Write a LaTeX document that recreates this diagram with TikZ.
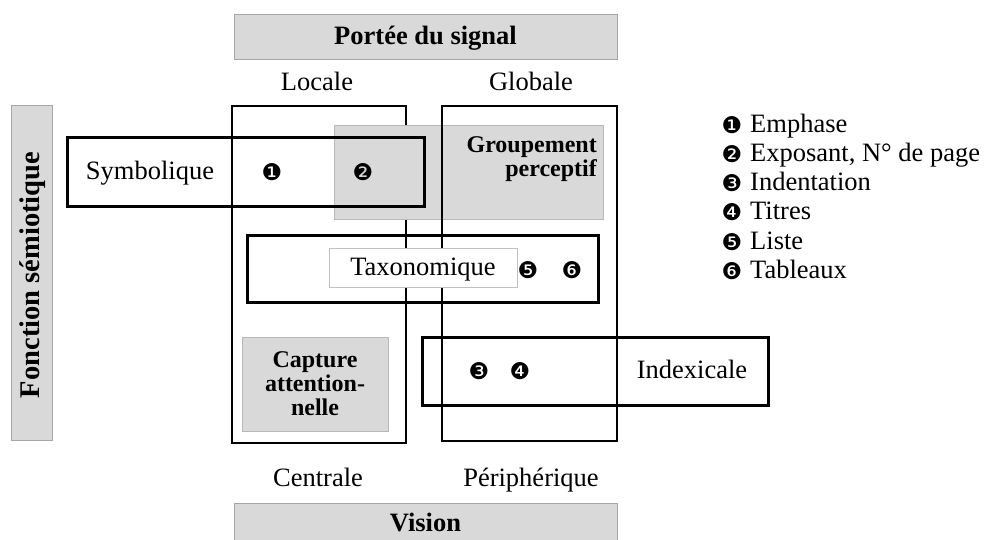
\documentclass[tikz,border=0pt]{standalone}
\usepackage{fontspec}
\setmainfont{Liberation Serif}
\newfontfamily\dingfont{DejaVu Sans}
\definecolor{barfill}{HTML}{D9D9D9}
\definecolor{baredge}{HTML}{A6A6A6}
\tikzset{
  headbar/.style={fill=barfill, draw=baredge, line width=1pt},
  colbox/.style={draw=black, line width=2pt},
  catbox/.style={draw=black, line width=3pt},
  graybox/.style={fill=barfill, draw=barfill!85!black, line width=0.8pt},
  headtxt/.style={inner sep=0pt, text height=20pt, text depth=5pt, font=\fontsize{26.5}{30}\bfseries\selectfont},
  lbl/.style={inner sep=0pt, text height=20pt, text depth=5pt, font=\fontsize{26.5}{30}\selectfont},
  boldlbl/.style={inner sep=0pt, font=\fontsize{24}{24}\bfseries\selectfont},
  num/.style={inner sep=0pt, font=\fontsize{23}{24}\dingfont\selectfont},
  legtxt/.style={inner sep=0pt, text height=20pt, text depth=5pt, anchor=west, font=\fontsize{26.5}{30}\selectfont}
}
\begin{document}
\begin{tikzpicture}[x=1pt,y=-1pt]
\useasboundingbox (0,0) rectangle (986,539);
% header bars
\draw[headbar] (234,14) rectangle (617,59);
\node[headtxt] (portee) at (425.5,37) {Portée du signal};
\draw[headbar] (234,503) rectangle (617,545);
\node[headtxt] (vision) at (425.5,524) {Vision};
\draw[headbar] (11,105) rectangle (52,440);
\node[headtxt, rotate=90, font=\fontsize{28.5}{30}\bfseries\selectfont] (fonction) at (32,275) {Fonction sémiotique};
% column labels
\node[lbl] (locale) at (317,83) {Locale};
\node[lbl] (globale) at (531,83) {Globale};
\node[lbl] (centrale) at (318,479) {Centrale};
\node[lbl] (periph) at (531,479) {Périphérique};
% columns and boxes
\draw[colbox] (232,106) rectangle (406,443);
\draw[graybox] (334,125) rectangle (603,219);
\node[boldlbl, anchor=east, align=right] (group) at (597,159) {Groupement\\perceptif};
\draw[colbox] (442,106) rectangle (617,441);
\draw[catbox] (67,137) rectangle (424,206);
\node[lbl] (symb) at (150,172) {Symbolique};
\node[num] (n1) at (272,172) {❶};
\node[num] (n2) at (363,172) {❷};
\draw[catbox] (247,235) rectangle (598,302);
\draw[fill=white, draw=baredge!70, line width=0.8pt] (329,248) rectangle (517,287);
\node[lbl] (taxo) at (423,268) {Taxonomique};
\node[num] (n5) at (528,270) {❺};
\node[num] (n6) at (572,270) {❻};
\draw[catbox] (422,337) rectangle (768,405);
\node[lbl] (index) at (692,371) {Indexicale};
\node[num] (n3) at (479,371) {❸};
\node[num] (n4) at (520,371) {❹};
\draw[graybox] (242,337) rectangle (388,431);
\node[boldlbl, align=center] (capture) at (315,384) {Capture\\attention-\\nelle};
% legend
\node[num] (l1) at (732,125) {❶}; \node[legtxt] (t1) at (750,125) {Emphase};
\node[num] (l2) at (732,154) {❷}; \node[legtxt] (t2) at (750,154) {Exposant, N° de page};
\node[num] (l3) at (732,183) {❸}; \node[legtxt] (t3) at (750,183) {Indentation};
\node[num] (l4) at (732,212) {❹}; \node[legtxt] (t4) at (750,212) {Titres};
\node[num] (l5) at (732,242) {❺}; \node[legtxt] (t5) at (750,242) {Liste};
\node[num] (l6) at (732,271) {❻}; \node[legtxt] (t6) at (750,271) {Tableaux};
\end{tikzpicture}
\end{document}
